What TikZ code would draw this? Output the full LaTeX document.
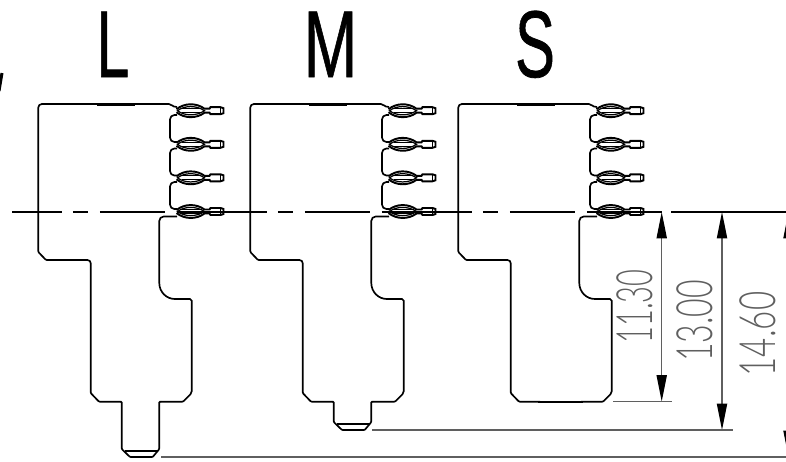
\documentclass[tikz,border=0pt]{standalone}
\usepackage{fontspec}
\setmainfont{Liberation Sans}
\newfontfamily\sizefont[RawFeature={embolden=.8}]{Liberation Sans}
\newfontfamily\dimfont{Lato Light}
\definecolor{dimcolor}{RGB}{95, 95, 95}
\usetikzlibrary{arrows.meta}
\tikzset{
    outline/.style={line width=.95pt, rounded corners=.5pt},
    dimline/.style={line width=.7pt, draw=dimcolor},
    dimarrow/.style={dimline, {Triangle[length=15pt, width=5.8pt, black]}-{Triangle[length=15pt, width=5.8pt, black]}},
    centerline/.style={line width=.7pt, dash pattern=on 51.2pt off 6.26pt on 8.54pt off 6.83pt on 37pt off 6.83pt, dash phase=22.8pt},
    sizemark/.style={font=\sizefont\fontsize{54}{54}\selectfont, anchor=base},
    dimtext/.style={font=\dimfont\fontsize{28.5}{28.5}\selectfont, text=dimcolor, rotate=90},
    contact/.pic={
        \draw[line width=1.1pt] (0,-1.5) .. controls (8,-8) and (20,-8) .. (28,-2)
            -- (33,-2) -- (34,-3.5) -- (44,-3.5) -- (47,-2.5) -- (47,2.5) -- (44,3.5) -- (34,3.5)
            -- (33,2) -- (28,2) .. controls (20,8) and (8,8) .. (0,1.5);
        \draw[line width=.7pt] (1,0) .. controls (8,-5.5) and (20,-5.5) .. (28,0)
            .. controls (20,5.5) and (8,5.5) .. cycle;
        \draw[line width=.5pt] (5,-2) -- (24,-2) (5,2) -- (24,2);
        \draw[line width=.5pt] (44,-3.5) -- (44,3.5);
    },
    plugbody/.pic={
        \draw[outline] (120,401.7) -- (99,401.7) -- (90.7,393) [rounded corners=1.8pt] -- (90.7,260)
            [rounded corners=.5pt] -- (46,260) -- (38.3,252) [rounded corners=2pt] -- (38.3,104)
            [rounded corners=.5pt] -- (168,104) .. controls (172,104) and (172,107) .. (177,107);
        \draw[line width=1.6pt] (97,105) -- (135,105);
        \foreach \wy in {115, 148.5, 182} {
            \draw[outline, rounded corners=2.5pt] (177,\wy) -- (170,\wy) -- (170,\wy+27) -- (177,\wy+27);
        }
        \draw[outline, rounded corners=2.5pt] (177,216.5) -- (159.3,216.5) -- (159.3,283);
        \draw[line width=.95pt] (159.3,283) .. controls (159.3,291.8) and (166.2,299) .. (175,299);
        \draw[outline, rounded corners=1pt] (175,299) -- (191.7,299) -- (191.7,393)
            [rounded corners=.5pt] -- (183,401.7) -- (161,401.7);
        \foreach \cy in {110.7, 144.3, 177.8, 211.5} {
            \pic at (176.5,\cy) {contact};
        }
    },
    stem/.pic={
        \draw[outline] (120,401.7) -- (121.7,401.7) -- (121.7,#1-8) -- (130,#1) -- (152.7,#1)
            -- (159.3,#1-8) -- (159.3,401.7) -- (161,401.7);
        \draw[line width=.7pt] (124.5,#1-6) -- (156.5,#1-6);
    },
}
\begin{document}
\begin{tikzpicture}[x=.02cm, y=-.02cm]
    \path[use as bounding box, clip] (0,0) rectangle (786,461);
    \node[sizemark] (sizel) at (113,77) {\scalebox{.62}[1]{L}};
    \node[sizemark] (sizem) at (330.5,77) {\scalebox{.68}[1]{M}};
    \node[sizemark] (sizes) at (535,77) {\scalebox{.63}[1]{S}};
    \draw[line width=1.7pt] (2,73) -- (-1,91);

    \pic at (0,0) {plugbody};
    \pic at (0,0) {stem=457};
    \pic at (212,0) {plugbody};
    \pic at (212,0) {stem=430};
    \pic at (420,0) {plugbody};
    \draw[outline] (538,401.7) -- (583,401.7);

    \coordinate (axisl) at (12,212);
    \coordinate (axisr) at (662,212);
    \coordinate (axisa) at (671,212);
    \coordinate (axisb) at (790,212);
    \draw[centerline] (axisl) -- (axisr);
    \draw[line width=.6pt] (axisa) -- (axisb);

    \coordinate (dima) at (661.7,212);
    \coordinate (dimb) at (661.7,401.5);
    \coordinate (dimc) at (722,212);
    \coordinate (dimd) at (722,430);
    \coordinate (dime) at (788.5,212);
    \coordinate (dimf) at (788.5,457);
    \draw[dimarrow] (dima) -- (dimb);
    \draw[dimarrow] (dimc) -- (dimd);
    \draw[dimarrow] (dime) -- (dimf);

    \coordinate (exta) at (613,401.5);
    \coordinate (extb) at (672,401.5);
    \coordinate (extc) at (372,430);
    \coordinate (extd) at (733,430);
    \coordinate (exte) at (161,457);
    \coordinate (extf) at (790,457);
    \draw[dimline] (exta) -- (extb);
    \draw[dimline] (extc) -- (extd);
    \draw[dimline] (exte) -- (extf);

    \node[dimtext] (dimlow) at (634.5,306.5) {\scalebox{.58}[1]{11.30}};
    \node[dimtext] (dimmid) at (695,321) {\scalebox{.64}[1]{13.00}};
    \node[dimtext] (dimtop) at (758,334) {\scalebox{.66}[1]{14.60}};
\end{tikzpicture}
\end{document}
